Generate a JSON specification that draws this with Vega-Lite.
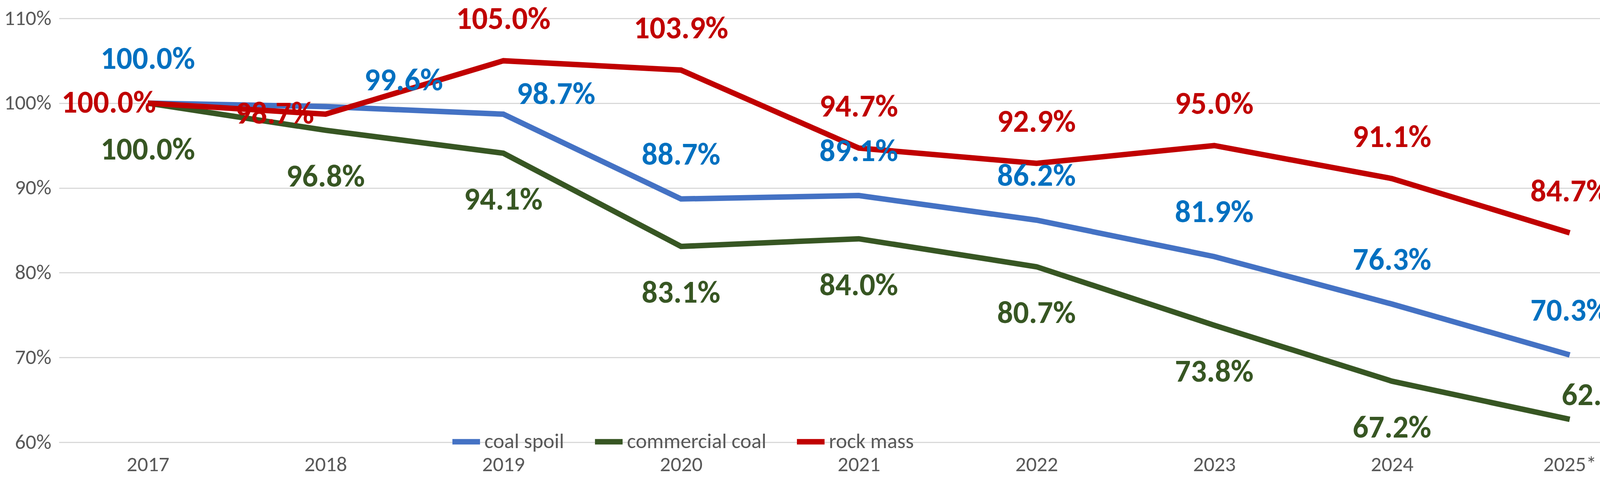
{
  "$schema": "https://vega.github.io/schema/vega-lite/v6.json",
  "width": 4266,
  "height": 1225,
  "autosize": {"type": "fit", "contains": "padding"},
  "padding": {"left": 10, "right": 20, "top": 20, "bottom": 10},
  "config": {"font": "Calibri, Carlito, Liberation Sans, sans-serif", "view": {"stroke": null}},
  "data": {"values": [
    {"year": "2017", "series": "coal spoil", "value": 1.000},
    {"year": "2018", "series": "coal spoil", "value": 0.996},
    {"year": "2019", "series": "coal spoil", "value": 0.987},
    {"year": "2020", "series": "coal spoil", "value": 0.887},
    {"year": "2021", "series": "coal spoil", "value": 0.891},
    {"year": "2022", "series": "coal spoil", "value": 0.862},
    {"year": "2023", "series": "coal spoil", "value": 0.819},
    {"year": "2024", "series": "coal spoil", "value": 0.763},
    {"year": "2025*", "series": "coal spoil", "value": 0.703},
    {"year": "2017", "series": "commercial coal", "value": 1.000},
    {"year": "2018", "series": "commercial coal", "value": 0.968},
    {"year": "2019", "series": "commercial coal", "value": 0.941},
    {"year": "2020", "series": "commercial coal", "value": 0.831},
    {"year": "2021", "series": "commercial coal", "value": 0.840},
    {"year": "2022", "series": "commercial coal", "value": 0.807},
    {"year": "2023", "series": "commercial coal", "value": 0.738},
    {"year": "2024", "series": "commercial coal", "value": 0.672},
    {"year": "2025*", "series": "commercial coal", "value": 0.627},
    {"year": "2017", "series": "rock mass", "value": 1.000},
    {"year": "2018", "series": "rock mass", "value": 0.987},
    {"year": "2019", "series": "rock mass", "value": 1.050},
    {"year": "2020", "series": "rock mass", "value": 1.039},
    {"year": "2021", "series": "rock mass", "value": 0.947},
    {"year": "2022", "series": "rock mass", "value": 0.929},
    {"year": "2023", "series": "rock mass", "value": 0.950},
    {"year": "2024", "series": "rock mass", "value": 0.911},
    {"year": "2025*", "series": "rock mass", "value": 0.847}
  ]},
  "encoding": {
    "x": {"field": "year", "type": "ordinal", "sort": null, "scale": {"type": "point", "padding": 0.5},
      "axis": {"title": null, "labelAngle": 0, "labelFontSize": 54, "labelColor": "#595959", "ticks": false, "domainColor": "#D9D9D9", "domainWidth": 3, "labelPadding": 30}},
    "y": {"field": "value", "type": "quantitative", "scale": {"domain": [0.6, 1.1], "nice": false},
      "axis": {"title": null, "format": ".0%", "values": [0.6, 0.7, 0.8, 0.9, 1.0, 1.1], "labelFontSize": 54, "labelColor": "#595959", "domain": false, "ticks": false, "gridColor": "#D9D9D9", "gridWidth": 3, "labelPadding": 20}}
  },
  "layer": [
    {
      "mark": {"type": "line", "strokeWidth": 14},
      "encoding": {
        "color": {"field": "series", "type": "nominal",
          "scale": {"domain": ["coal spoil", "commercial coal", "rock mass"], "range": ["#4472C4", "#375623", "#C00000"]},
          "legend": {"title": null, "orient": "none", "legendX": 1000, "legendY": 1040, "direction": "horizontal", "labelFontSize": 54, "labelLimit": 0, "labelColor": "#595959", "symbolType": "stroke", "symbolStrokeWidth": 14, "symbolSize": 5000, "columnPadding": 50}}
      }
    },
    {
      "mark": {"type": "text", "fontSize": 80, "fontWeight": "bold",
        "dy": {"expr": "datum.series == 'commercial coal' ? (datum.year == '2025*' ? -60 : 120) : (datum.series == 'rock mass' ? ((datum.year == '2017' || datum.year == '2018') ? 0 : -105) : (datum.year == '2018' ? -65 : (datum.year == '2019' ? -50 : -112)))"},
        "dx": {"expr": "datum.series == 'coal spoil' ? (datum.year == '2018' ? 200 : (datum.year == '2019' ? 135 : 0)) : (datum.series == 'rock mass' ? (datum.year == '2017' ? -100 : (datum.year == '2018' ? -130 : 0)) : (datum.year == '2025*' ? 80 : 0))"}},
      "encoding": {
        "text": {"field": "value", "type": "quantitative", "format": ".1%"},
        "color": {"field": "series", "type": "nominal",
          "scale": {"domain": ["coal spoil", "commercial coal", "rock mass"], "range": ["#0070C0", "#375623", "#C00000"]},
          "legend": null}
      }
    }
  ],
  "resolve": {"scale": {"color": "independent"}}
}
